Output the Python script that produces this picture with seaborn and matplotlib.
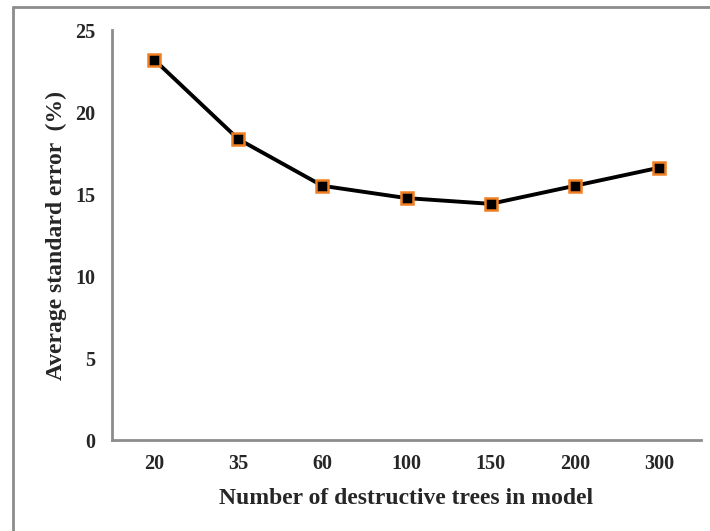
import matplotlib
matplotlib.use("Agg")
import matplotlib.pyplot as plt
from matplotlib.lines import Line2D
import seaborn as sns
import pandas as pd

trees = ["20", "35", "60", "100", "150", "200", "300"]
avg_se = [23.2, 18.35, 15.5, 14.75, 14.4, 15.5, 16.6]
y_ticks = [0, 5, 10, 15, 20, 25]

sns.set_style("white")
plt.rcParams['font.family'] = ['Liberation Serif', 'DejaVu Serif']
plt.rcParams['font.weight'] = 'bold'

df = pd.DataFrame({"trees": trees, "se": avg_se})

fig = plt.figure(figsize=(7.1, 5.31), dpi=100)
ax = fig.add_axes([112/710, 1-440/531, (701-112)/710, (440-30)/531])

sns.lineplot(data=df, x="trees", y="se", ax=ax, color="black", linewidth=2.8,
             marker="s", markersize=8, markerfacecolor="black",
             markeredgecolor="#F07F22", markeredgewidth=1.8, sort=False)

ax.set_xlim(-0.5, len(trees) - 0.5)
ax.set_ylim(0, 25)
ax.set_yticks(y_ticks)
ax.set_yticklabels([str(v) for v in y_ticks], fontsize=14.5, fontweight='bold')
ax.set_xticks(range(len(trees)))
ax.set_xticklabels(trees, fontsize=14.5, fontweight='bold')
ax.set_xticks([i - 0.5 for i in range(len(trees) + 1)], minor=True)

ax.tick_params(axis='x', which='major', length=0, pad=10)
ax.tick_params(axis='x', which='minor', length=4, width=2, color="#8c8c8c", direction='out')
ax.tick_params(axis='y', which='major', length=4, width=2, color="#8c8c8c", direction='out', pad=8)

for s in ["top", "right"]:
    ax.spines[s].set_visible(False)
for s in ["left", "bottom"]:
    ax.spines[s].set_color("#8c8c8c")
    ax.spines[s].set_linewidth(2)

ax.set_xlabel("Number of destructive trees in model", fontsize=17, fontweight='bold', labelpad=10)
ax.set_ylabel("Average standard error  (%)", fontsize=17, fontweight='bold', labelpad=6)

# outer frame (left and top edges visible)
fig.add_artist(Line2D([13/710, 13/710], [0, 1-7/531], transform=fig.transFigure, color="#8c8c8c", linewidth=2))
fig.add_artist(Line2D([13/710, 1], [1-7/531, 1-7/531], transform=fig.transFigure, color="#8c8c8c", linewidth=2))

fig.savefig("out.png", dpi=100)
